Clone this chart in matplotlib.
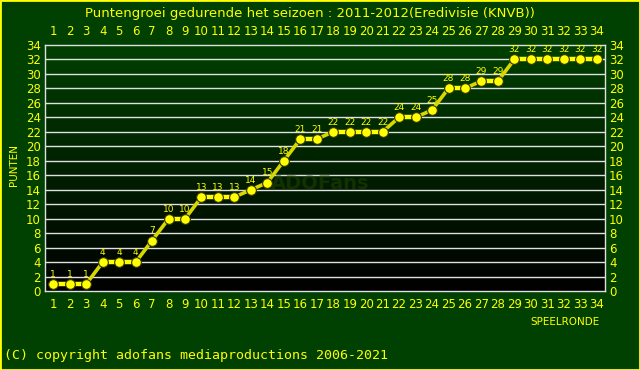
import matplotlib
matplotlib.use("Agg")
import matplotlib.pyplot as plt
import numpy as np
from matplotlib.patches import Rectangle
from matplotlib.colors import LinearSegmentedColormap

rounds = list(range(1, 35))
points = [1, 1, 1, 4, 4, 4, 7, 10, 10, 13, 13, 13, 14, 15, 18, 21, 21, 22, 22, 22,
          22, 24, 24, 25, 28, 28, 29, 29, 32, 32, 32, 32, 32, 32]
yticks = list(range(0, 35, 2))

title = "Puntengroei gedurende het seizoen : 2011-2012(Eredivisie (KNVB))"
ylabel = "PUNTEN"
xlabel = "SPEELRONDE"
copyright_text = "(C) copyright adofans mediaproductions 2006-2021"

BG = "#004000"
YEL = "#FFFF00"

fig = plt.figure(figsize=(6.4, 3.7), dpi=100, facecolor=BG)
ax = fig.add_axes([45/640, 1-291.3/370, 560/640, (291.3-44.8)/370])
ax.set_xlim(0.5, 34.5)
ax.set_ylim(0, 34)

grad = np.linspace(0, 1, 256).reshape(-1, 1)
cmap = LinearSegmentedColormap.from_list("g", ["#000000", "#004000"])
ax.imshow(grad, extent=[0.5, 34.5, 0, 34], origin="lower", aspect="auto", cmap=cmap, zorder=0)

for y in yticks[1:-1]:
    ax.axhline(y, color="#e0e0e0", lw=1.0, zorder=1)

ax.text(17.2, 14.9, "ADOFans", ha="center", va="center", fontsize=14, fontweight="bold",
        color="#2a4a00", alpha=0.45, zorder=1)

for i in range(len(rounds) - 1):
    flat = points[i] == points[i + 1]
    ax.plot(rounds[i:i + 2], points[i:i + 2], color=YEL if flat else "#d8d800",
            lw=3.2 if flat else 2.6, zorder=3, solid_capstyle="butt")
ax.plot(rounds, points, "o", color=YEL, markersize=7, markeredgecolor="#333300",
        markeredgewidth=0.8, zorder=4, linestyle="none")
for r, p in zip(rounds, points):
    ax.text(r, p + 0.7, str(p), ha="center", va="bottom", fontsize=6.5, color=YEL, zorder=5)

for s in ax.spines.values():
    s.set_color("#e0e0e0")
    s.set_linewidth(1.0)

ax.set_xticks(rounds)
ax.set_yticks(yticks)
ax.tick_params(axis="both", length=0, colors=YEL, labelsize=8.5, pad=5)
ax.tick_params(axis="x", labeltop=True, labelbottom=True)
ax.tick_params(axis="y", labelright=True, labelleft=True, pad=3)

fig.text(310/640, 1-13/370, title, ha="center", va="center", fontsize=9.5, color=YEL)
fig.text(14/640, 1-165/370, ylabel, ha="center", va="center", fontsize=7.5, color=YEL, rotation=90)
fig.text(565/640, 1-322/370, xlabel, ha="center", va="center", fontsize=7.5, color=YEL)
fig.text(4/640, 1-355/370, copyright_text, ha="left", va="center", fontsize=9.5, color=YEL,
         family="DejaVu Sans Mono")

fig.patches.append(Rectangle((0, 0), 1, 1, transform=fig.transFigure, fill=False,
                             edgecolor=YEL, lw=2, zorder=10))

fig.savefig("out.png", dpi=100, facecolor=BG)
